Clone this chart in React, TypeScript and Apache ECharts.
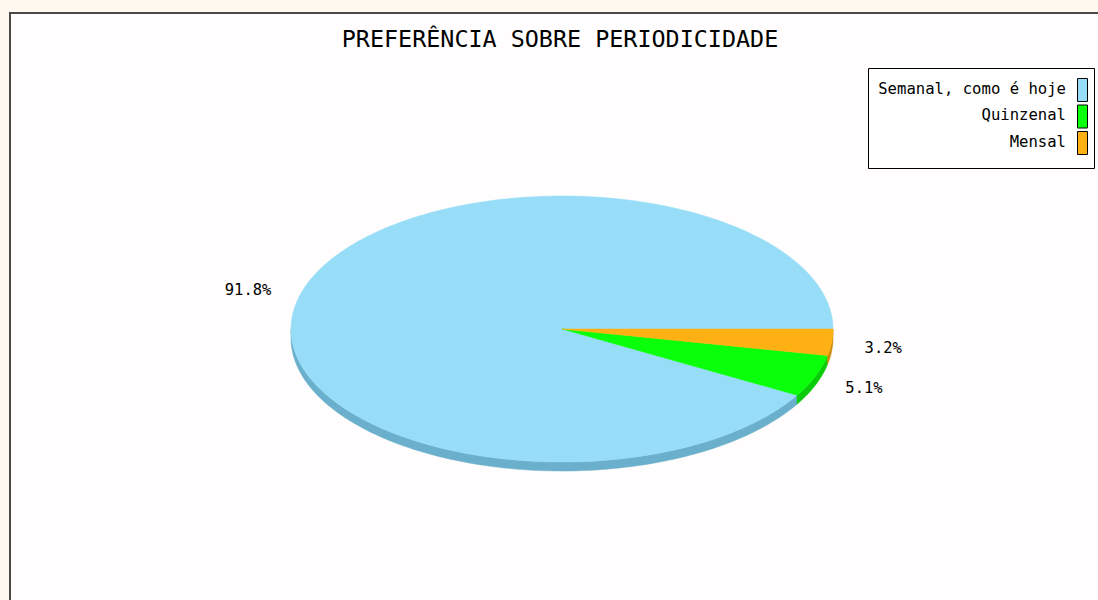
import React, { useEffect, useRef } from "react";
import * as echarts from "echarts";

const titleText = "PREFERÊNCIA SOBRE PERIODICIDADE";
const categories = ["Semanal, como é hoje", "Quinzenal", "Mensal"];
const values = [91.8, 5.1, 3.2];
const colors = ["#97DDF7", "#0AFF0A", "#FFB012"];
const sideColors = ["#6AAFCB", "#0ACC0A", "#CC8A0A"];

const FONT = "DejaVu Sans Mono, Liberation Mono, monospace";

export default function App() {
  const ref = useRef<HTMLDivElement>(null);
  useEffect(() => {
    if (!ref.current) return;
    const chart = echarts.init(ref.current, null, { renderer: "svg" });
    const total = values.reduce((a, b) => a + b, 0);
    const cum: number[] = [];
    let acc = 0;
    values.forEach((v) => {
      cum.push(acc);
      acc += v;
    });
    const cx = 562;
    const cy = 329;
    const rx = 271;
    const ry = 133;
    const depth = 9;
    const pt = (deg: number, dy = 0) => {
      const r = (deg * Math.PI) / 180;
      return [cx + rx * Math.cos(r), cy - ry * Math.sin(r) + dy];
    };

    const renderItem = (params: any, api: any) => {
      const i = params.dataIndex;
      const v = api.value(0);
      const a1 = (cum[i] / total) * 360;
      const a2 = a1 + (v / total) * 360;
      const children: any[] = [];
      const s1 = Math.max(a1, 180);
      const s2 = Math.min(a2, 360);
      if (s2 > s1) {
        const top: number[][] = [];
        const bot: number[][] = [];
        const n = Math.max(2, Math.ceil(s2 - s1));
        for (let k = 0; k <= n; k++) {
          const a = s1 + ((s2 - s1) * k) / n;
          top.push(pt(a));
          bot.push(pt(a, depth));
        }
        children.push({
          type: "polygon",
          shape: { points: top.concat(bot.reverse()) },
          style: { fill: sideColors[i], stroke: sideColors[i], lineWidth: 0.5 },
        });
      }
      const pts: number[][] = [[cx, cy]];
      const n = Math.max(2, Math.ceil(a2 - a1));
      for (let k = 0; k <= n; k++) {
        pts.push(pt(a1 + ((a2 - a1) * k) / n));
      }
      children.push({
        type: "polygon",
        shape: { points: pts },
        style: { fill: colors[i], stroke: colors[i], lineWidth: 0.5 },
      });
      const mid = (a1 + a2) / 2;
      const r = (mid * Math.PI) / 180;
      const lx = cx + rx * 1.195 * Math.cos(r) - 1;
      const ly = cy - ry * 1.2 * Math.sin(r) + 2.5;
      children.push({
        type: "text",
        style: {
          text: v.toFixed(1) + "%",
          x: lx,
          y: ly,
          textAlign: "center",
          textVerticalAlign: "middle",
          fill: "#000",
          font: `15.5px ${FONT}`,
        },
      });
      return { type: "group", children };
    };

    const legendRowH = 26.5;
    const legendTop = 78;
    const legendGraphics: any[] = [];
    legendGraphics.push({
      type: "rect",
      shape: { x: 868.5, y: 68.5, width: 226, height: 100 },
      style: { fill: "#ffffff", stroke: "#000", lineWidth: 1 },
      z: 10,
    });
    categories.forEach((c, i) => {
      legendGraphics.push({
        type: "rect",
        shape: { x: 1077.5, y: legendTop + i * legendRowH + 0.5, width: 10, height: 23 },
        style: { fill: colors[i], stroke: "#000", lineWidth: 1 },
        z: 11,
      });
      legendGraphics.push({
        type: "text",
        style: {
          text: c,
          x: 1066,
          y: legendTop + i * legendRowH + 10.5,
          textAlign: "right",
          textVerticalAlign: "middle",
          fill: "#000",
          font: `15.6px ${FONT}`,
        },
        z: 11,
      });
    });

    chart.setOption({
      animation: false,
      backgroundColor: "#FFF9EF",
      graphic: [
        {
          type: "rect",
          shape: { x: 10, y: 13, width: 1100, height: 600 },
          style: { fill: "#FFFDFD", stroke: "#4A4A4A", lineWidth: 2 },
          z: -10,
          silent: true,
        },
        {
          type: "text",
          style: {
            text: titleText,
            x: 560,
            y: 39,
            textAlign: "center",
            textVerticalAlign: "middle",
            fill: "#000",
            font: `23.4px ${FONT}`,
          },
          z: 5,
        },
        ...legendGraphics,
      ],
      series: [
        {
          type: "custom",
          name: titleText,
          coordinateSystem: "none",
          renderItem,
          data: values.map((v, i) => ({ name: categories[i], value: [v] })),
        },
      ],
    });
    return () => chart.dispose();
  }, []);
  return (
    <div
      ref={ref}
      style={{ position: "absolute", left: 0, top: 0, width: 1098, height: 600 }}
    />
  );
}
